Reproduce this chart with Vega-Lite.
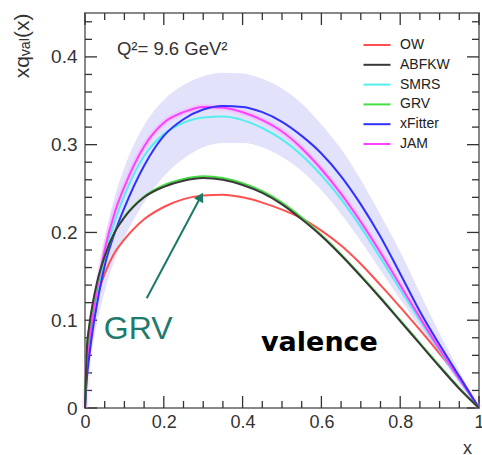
{
  "$schema": "https://vega.github.io/schema/vega-lite/v6.json",
  "width": 394,
  "height": 395,
  "autosize": "none",
  "padding": {"left": 85, "top": 13, "right": 3, "bottom": 47},
  "background": "white",
  "config": {
    "view": {"stroke": "#888", "strokeWidth": 2},
    "axisX": {"ticks": false, "domain": false, "grid": false, "tickCount": 5,
      "labelFont": "Liberation Sans", "labelFontSize": 18, "labelColor": "#333", "labelPadding": 5, "labelFlush": false, "labelOverlap": false,
      "labelExpr": "datum.value == 0 ? '0' : datum.value == 1 ? '1' : format(datum.value, '.1f')",
      "titleFont": "Liberation Sans", "titleFontSize": 18, "titleFontWeight": "normal", "titleColor": "#333",
      "titleX": 382, "titleY": 40, "titleAlign": "center", "titleBaseline": "middle"},
    "axisY": {"ticks": false, "domain": false, "grid": false, "tickCount": 5,
      "labelFont": "Liberation Sans", "labelFontSize": 19, "labelColor": "#333", "labelPadding": 8, "labelFlush": false, "labelOverlap": false,
      "labelExpr": "datum.value == 0 ? '0' : format(datum.value, '.1f')",
      "titleFont": "Liberation Sans, DejaVu Sans", "titleFontSize": 21, "titleFontWeight": "normal", "titleColor": "#333",
      "titleAngle": -90, "titleX": -63, "titleY": 0, "titleAlign": "right", "titleBaseline": "middle"}
  },
  "datasets": {
    "band": [
      {"x": 0, "lo": 0, "hi": 0},
      {"x": 0.005, "lo": 0.028, "hi": 0.05},
      {"x": 0.01, "lo": 0.045, "hi": 0.072},
      {"x": 0.02, "lo": 0.072, "hi": 0.112},
      {"x": 0.03, "lo": 0.095, "hi": 0.143},
      {"x": 0.05, "lo": 0.133, "hi": 0.193},
      {"x": 0.075, "lo": 0.168, "hi": 0.24},
      {"x": 0.1, "lo": 0.194, "hi": 0.274},
      {"x": 0.15, "lo": 0.234, "hi": 0.322},
      {"x": 0.2, "lo": 0.264, "hi": 0.351},
      {"x": 0.25, "lo": 0.284, "hi": 0.368},
      {"x": 0.3, "lo": 0.297, "hi": 0.378},
      {"x": 0.35, "lo": 0.302, "hi": 0.382},
      {"x": 0.4, "lo": 0.302, "hi": 0.381},
      {"x": 0.45, "lo": 0.297, "hi": 0.375},
      {"x": 0.5, "lo": 0.286, "hi": 0.364},
      {"x": 0.55, "lo": 0.27, "hi": 0.347},
      {"x": 0.6, "lo": 0.248, "hi": 0.323},
      {"x": 0.65, "lo": 0.221, "hi": 0.295},
      {"x": 0.7, "lo": 0.19, "hi": 0.26},
      {"x": 0.75, "lo": 0.157, "hi": 0.22},
      {"x": 0.8, "lo": 0.124, "hi": 0.178},
      {"x": 0.85, "lo": 0.092, "hi": 0.131},
      {"x": 0.9, "lo": 0.06, "hi": 0.085},
      {"x": 0.95, "lo": 0.029, "hi": 0.042},
      {"x": 1, "lo": 0, "hi": 0}
    ],
    "curves": [
      {"s": "OW", "x": 0, "y": 0}, {"s": "OW", "x": 0.005, "y": 0.053}, {"s": "OW", "x": 0.01, "y": 0.075}, {"s": "OW", "x": 0.02, "y": 0.105}, {"s": "OW", "x": 0.03, "y": 0.125}, {"s": "OW", "x": 0.05, "y": 0.153}, {"s": "OW", "x": 0.075, "y": 0.177}, {"s": "OW", "x": 0.1, "y": 0.192}, {"s": "OW", "x": 0.15, "y": 0.215}, {"s": "OW", "x": 0.2, "y": 0.229}, {"s": "OW", "x": 0.25, "y": 0.238}, {"s": "OW", "x": 0.3, "y": 0.242}, {"s": "OW", "x": 0.35, "y": 0.243}, {"s": "OW", "x": 0.4, "y": 0.24}, {"s": "OW", "x": 0.45, "y": 0.234}, {"s": "OW", "x": 0.5, "y": 0.226}, {"s": "OW", "x": 0.55, "y": 0.216}, {"s": "OW", "x": 0.6, "y": 0.202}, {"s": "OW", "x": 0.65, "y": 0.185}, {"s": "OW", "x": 0.7, "y": 0.164}, {"s": "OW", "x": 0.75, "y": 0.14}, {"s": "OW", "x": 0.8, "y": 0.115}, {"s": "OW", "x": 0.85, "y": 0.089}, {"s": "OW", "x": 0.9, "y": 0.062}, {"s": "OW", "x": 0.95, "y": 0.034}, {"s": "OW", "x": 1, "y": 0},
      {"s": "SMRS", "x": 0, "y": 0}, {"s": "SMRS", "x": 0.005, "y": 0.042}, {"s": "SMRS", "x": 0.01, "y": 0.066}, {"s": "SMRS", "x": 0.02, "y": 0.1}, {"s": "SMRS", "x": 0.03, "y": 0.127}, {"s": "SMRS", "x": 0.05, "y": 0.172}, {"s": "SMRS", "x": 0.075, "y": 0.212}, {"s": "SMRS", "x": 0.1, "y": 0.242}, {"s": "SMRS", "x": 0.15, "y": 0.287}, {"s": "SMRS", "x": 0.2, "y": 0.312}, {"s": "SMRS", "x": 0.25, "y": 0.325}, {"s": "SMRS", "x": 0.3, "y": 0.331}, {"s": "SMRS", "x": 0.35, "y": 0.332}, {"s": "SMRS", "x": 0.4, "y": 0.328}, {"s": "SMRS", "x": 0.45, "y": 0.319}, {"s": "SMRS", "x": 0.5, "y": 0.306}, {"s": "SMRS", "x": 0.55, "y": 0.288}, {"s": "SMRS", "x": 0.6, "y": 0.265}, {"s": "SMRS", "x": 0.65, "y": 0.238}, {"s": "SMRS", "x": 0.7, "y": 0.206}, {"s": "SMRS", "x": 0.75, "y": 0.171}, {"s": "SMRS", "x": 0.8, "y": 0.135}, {"s": "SMRS", "x": 0.85, "y": 0.1}, {"s": "SMRS", "x": 0.9, "y": 0.065}, {"s": "SMRS", "x": 0.95, "y": 0.032}, {"s": "SMRS", "x": 1, "y": 0},
      {"s": "JAM", "x": 0, "y": 0}, {"s": "JAM", "x": 0.005, "y": 0.045}, {"s": "JAM", "x": 0.01, "y": 0.07}, {"s": "JAM", "x": 0.02, "y": 0.105}, {"s": "JAM", "x": 0.03, "y": 0.133}, {"s": "JAM", "x": 0.05, "y": 0.18}, {"s": "JAM", "x": 0.075, "y": 0.222}, {"s": "JAM", "x": 0.1, "y": 0.252}, {"s": "JAM", "x": 0.15, "y": 0.298}, {"s": "JAM", "x": 0.2, "y": 0.325}, {"s": "JAM", "x": 0.25, "y": 0.337}, {"s": "JAM", "x": 0.3, "y": 0.343}, {"s": "JAM", "x": 0.35, "y": 0.342}, {"s": "JAM", "x": 0.4, "y": 0.337}, {"s": "JAM", "x": 0.45, "y": 0.328}, {"s": "JAM", "x": 0.5, "y": 0.315}, {"s": "JAM", "x": 0.55, "y": 0.296}, {"s": "JAM", "x": 0.6, "y": 0.272}, {"s": "JAM", "x": 0.65, "y": 0.244}, {"s": "JAM", "x": 0.7, "y": 0.212}, {"s": "JAM", "x": 0.75, "y": 0.177}, {"s": "JAM", "x": 0.8, "y": 0.14}, {"s": "JAM", "x": 0.85, "y": 0.103}, {"s": "JAM", "x": 0.9, "y": 0.067}, {"s": "JAM", "x": 0.95, "y": 0.033}, {"s": "JAM", "x": 1, "y": 0},
      {"s": "xFitter", "x": 0, "y": 0}, {"s": "xFitter", "x": 0.005, "y": 0.035}, {"s": "xFitter", "x": 0.01, "y": 0.056}, {"s": "xFitter", "x": 0.02, "y": 0.09}, {"s": "xFitter", "x": 0.03, "y": 0.117}, {"s": "xFitter", "x": 0.05, "y": 0.162}, {"s": "xFitter", "x": 0.075, "y": 0.199}, {"s": "xFitter", "x": 0.1, "y": 0.228}, {"s": "xFitter", "x": 0.15, "y": 0.276}, {"s": "xFitter", "x": 0.2, "y": 0.31}, {"s": "xFitter", "x": 0.25, "y": 0.329}, {"s": "xFitter", "x": 0.3, "y": 0.34}, {"s": "xFitter", "x": 0.35, "y": 0.344}, {"s": "xFitter", "x": 0.4, "y": 0.343}, {"s": "xFitter", "x": 0.45, "y": 0.337}, {"s": "xFitter", "x": 0.5, "y": 0.326}, {"s": "xFitter", "x": 0.55, "y": 0.31}, {"s": "xFitter", "x": 0.6, "y": 0.29}, {"s": "xFitter", "x": 0.65, "y": 0.264}, {"s": "xFitter", "x": 0.7, "y": 0.232}, {"s": "xFitter", "x": 0.75, "y": 0.195}, {"s": "xFitter", "x": 0.8, "y": 0.153}, {"s": "xFitter", "x": 0.85, "y": 0.11}, {"s": "xFitter", "x": 0.9, "y": 0.072}, {"s": "xFitter", "x": 0.95, "y": 0.036}, {"s": "xFitter", "x": 1, "y": 0},
      {"s": "GRV", "x": 0, "y": 0}, {"s": "GRV", "x": 0.005, "y": 0.067}, {"s": "GRV", "x": 0.01, "y": 0.089}, {"s": "GRV", "x": 0.02, "y": 0.118}, {"s": "GRV", "x": 0.03, "y": 0.14}, {"s": "GRV", "x": 0.05, "y": 0.172}, {"s": "GRV", "x": 0.075, "y": 0.2}, {"s": "GRV", "x": 0.1, "y": 0.218}, {"s": "GRV", "x": 0.15, "y": 0.241}, {"s": "GRV", "x": 0.2, "y": 0.254}, {"s": "GRV", "x": 0.25, "y": 0.261}, {"s": "GRV", "x": 0.3, "y": 0.264}, {"s": "GRV", "x": 0.35, "y": 0.262}, {"s": "GRV", "x": 0.4, "y": 0.256}, {"s": "GRV", "x": 0.45, "y": 0.247}, {"s": "GRV", "x": 0.5, "y": 0.234}, {"s": "GRV", "x": 0.55, "y": 0.217}, {"s": "GRV", "x": 0.6, "y": 0.197}, {"s": "GRV", "x": 0.65, "y": 0.175}, {"s": "GRV", "x": 0.7, "y": 0.151}, {"s": "GRV", "x": 0.75, "y": 0.126}, {"s": "GRV", "x": 0.8, "y": 0.1}, {"s": "GRV", "x": 0.85, "y": 0.074}, {"s": "GRV", "x": 0.9, "y": 0.048}, {"s": "GRV", "x": 0.95, "y": 0.023}, {"s": "GRV", "x": 1, "y": 0},
      {"s": "ABFKW", "x": 0, "y": 0}, {"s": "ABFKW", "x": 0.005, "y": 0.069}, {"s": "ABFKW", "x": 0.01, "y": 0.091}, {"s": "ABFKW", "x": 0.02, "y": 0.12}, {"s": "ABFKW", "x": 0.03, "y": 0.142}, {"s": "ABFKW", "x": 0.05, "y": 0.173}, {"s": "ABFKW", "x": 0.075, "y": 0.2}, {"s": "ABFKW", "x": 0.1, "y": 0.217}, {"s": "ABFKW", "x": 0.15, "y": 0.24}, {"s": "ABFKW", "x": 0.2, "y": 0.252}, {"s": "ABFKW", "x": 0.25, "y": 0.259}, {"s": "ABFKW", "x": 0.3, "y": 0.262}, {"s": "ABFKW", "x": 0.35, "y": 0.26}, {"s": "ABFKW", "x": 0.4, "y": 0.254}, {"s": "ABFKW", "x": 0.45, "y": 0.245}, {"s": "ABFKW", "x": 0.5, "y": 0.232}, {"s": "ABFKW", "x": 0.55, "y": 0.215}, {"s": "ABFKW", "x": 0.6, "y": 0.196}, {"s": "ABFKW", "x": 0.65, "y": 0.174}, {"s": "ABFKW", "x": 0.7, "y": 0.15}, {"s": "ABFKW", "x": 0.75, "y": 0.125}, {"s": "ABFKW", "x": 0.8, "y": 0.099}, {"s": "ABFKW", "x": 0.85, "y": 0.073}, {"s": "ABFKW", "x": 0.9, "y": 0.047}, {"s": "ABFKW", "x": 0.95, "y": 0.022}, {"s": "ABFKW", "x": 1, "y": 0}
    ]
  },
  "layer": [
    {
      "data": {"name": "band"},
      "mark": {"type": "area", "color": "#e2e2fb", "opacity": 1, "interpolate": "monotone"},
      "encoding": {
        "x": {"field": "x", "type": "quantitative", "title": "x", "scale": {"domain": [0, 1], "nice": false}},
        "y": {"field": "lo", "type": "quantitative", "title": "xqᵥₐₗ(x)", "scale": {"domain": [0, 0.45], "nice": false}},
        "y2": {"field": "hi"}
      }
    },
    {
      "data": {"values": [{"gx": 0}, {"gx": 0.2}, {"gx": 0.4}, {"gx": 0.6}, {"gx": 0.8}, {"gx": 1}]},
      "mark": {"type": "rule", "color": "#333", "strokeWidth": 1.3},
      "encoding": {
        "x": {"field": "gx", "type": "quantitative", "title": "x"},
        "y": {"datum": 0, "type": "quantitative", "title": "xqᵥₐₗ(x)"},
        "y2": {"datum": 0.0137}
      }
    },
    {
      "data": {"values": [{"gx": 0.05}, {"gx": 0.1}, {"gx": 0.15}, {"gx": 0.25}, {"gx": 0.3}, {"gx": 0.35}, {"gx": 0.45}, {"gx": 0.5}, {"gx": 0.55}, {"gx": 0.65}, {"gx": 0.7}, {"gx": 0.75}, {"gx": 0.85}, {"gx": 0.9}, {"gx": 0.95}]},
      "mark": {"type": "rule", "color": "#333", "strokeWidth": 1.3},
      "encoding": {
        "x": {"field": "gx", "type": "quantitative", "title": "x"},
        "y": {"datum": 0, "type": "quantitative", "title": "xqᵥₐₗ(x)"},
        "y2": {"datum": 0.008}
      }
    },
    {
      "data": {"values": [{"gx": 0}, {"gx": 0.2}, {"gx": 0.4}, {"gx": 0.6}, {"gx": 0.8}, {"gx": 1}]},
      "mark": {"type": "rule", "color": "#333", "strokeWidth": 1.3},
      "encoding": {
        "x": {"field": "gx", "type": "quantitative", "title": "x"},
        "y": {"datum": 0.45, "type": "quantitative", "title": "xqᵥₐₗ(x)"},
        "y2": {"datum": 0.4363}
      }
    },
    {
      "data": {"values": [{"gx": 0.05}, {"gx": 0.1}, {"gx": 0.15}, {"gx": 0.25}, {"gx": 0.3}, {"gx": 0.35}, {"gx": 0.45}, {"gx": 0.5}, {"gx": 0.55}, {"gx": 0.65}, {"gx": 0.7}, {"gx": 0.75}, {"gx": 0.85}, {"gx": 0.9}, {"gx": 0.95}]},
      "mark": {"type": "rule", "color": "#333", "strokeWidth": 1.3},
      "encoding": {
        "x": {"field": "gx", "type": "quantitative", "title": "x"},
        "y": {"datum": 0.45, "type": "quantitative", "title": "xqᵥₐₗ(x)"},
        "y2": {"datum": 0.442}
      }
    },
    {
      "data": {"values": [{"gy": 0}, {"gy": 0.1}, {"gy": 0.2}, {"gy": 0.3}, {"gy": 0.4}]},
      "mark": {"type": "rule", "color": "#333", "strokeWidth": 1.3},
      "encoding": {
        "y": {"field": "gy", "type": "quantitative", "title": "xqᵥₐₗ(x)"},
        "x": {"datum": 0, "type": "quantitative", "title": "x"},
        "x2": {"datum": 0.0305}
      }
    },
    {
      "data": {"values": [{"gy": 0.02}, {"gy": 0.04}, {"gy": 0.06}, {"gy": 0.08}, {"gy": 0.12}, {"gy": 0.14}, {"gy": 0.16}, {"gy": 0.18}, {"gy": 0.22}, {"gy": 0.24}, {"gy": 0.26}, {"gy": 0.28}, {"gy": 0.32}, {"gy": 0.34}, {"gy": 0.36}, {"gy": 0.38}, {"gy": 0.42}, {"gy": 0.44}]},
      "mark": {"type": "rule", "color": "#333", "strokeWidth": 1.3},
      "encoding": {
        "y": {"field": "gy", "type": "quantitative", "title": "xqᵥₐₗ(x)"},
        "x": {"datum": 0, "type": "quantitative", "title": "x"},
        "x2": {"datum": 0.0178}
      }
    },
    {
      "data": {"values": [{"gy": 0}, {"gy": 0.1}, {"gy": 0.2}, {"gy": 0.3}, {"gy": 0.4}]},
      "mark": {"type": "rule", "color": "#333", "strokeWidth": 1.3},
      "encoding": {
        "y": {"field": "gy", "type": "quantitative", "title": "xqᵥₐₗ(x)"},
        "x": {"datum": 1, "type": "quantitative", "title": "x"},
        "x2": {"datum": 0.9695}
      }
    },
    {
      "data": {"values": [{"gy": 0.02}, {"gy": 0.04}, {"gy": 0.06}, {"gy": 0.08}, {"gy": 0.12}, {"gy": 0.14}, {"gy": 0.16}, {"gy": 0.18}, {"gy": 0.22}, {"gy": 0.24}, {"gy": 0.26}, {"gy": 0.28}, {"gy": 0.32}, {"gy": 0.34}, {"gy": 0.36}, {"gy": 0.38}, {"gy": 0.42}, {"gy": 0.44}]},
      "mark": {"type": "rule", "color": "#333", "strokeWidth": 1.3},
      "encoding": {
        "y": {"field": "gy", "type": "quantitative", "title": "xqᵥₐₗ(x)"},
        "x": {"datum": 1, "type": "quantitative", "title": "x"},
        "x2": {"datum": 0.9822}
      }
    },
    {
      "data": {"name": "curves"},
      "transform": [{"filter": "datum.s == 'JAM'"}],
      "mark": {"type": "line", "color": "#ff99ff", "strokeWidth": 6, "opacity": 0.3, "interpolate": "monotone"},
      "encoding": {
        "x": {"field": "x", "type": "quantitative", "title": "x"},
        "y": {"field": "y", "type": "quantitative", "title": "xqᵥₐₗ(x)"}
      }
    },
    {
      "data": {"name": "curves"},
      "mark": {"type": "line", "strokeWidth": 2, "interpolate": "monotone"},
      "encoding": {
        "x": {"field": "x", "type": "quantitative", "title": "x"},
        "y": {"field": "y", "type": "quantitative", "title": "xqᵥₐₗ(x)"},
        "color": {"field": "s", "type": "nominal",
          "scale": {"domain": ["OW", "ABFKW", "SMRS", "GRV", "xFitter", "JAM"], "range": ["#ff5050", "#3a3a3a", "#55eeee", "#44dd44", "#3030ff", "#ff40ff"]},
          "legend": {"orient": "none", "legendX": 285, "legendY": 25, "title": null, "padding": 0,
            "symbolType": "M-2.7,0H2.7", "symbolSize": 100, "symbolStrokeWidth": 2, "labelOffset": 16,
            "labelFont": "Liberation Sans", "labelFontSize": 14, "labelColor": "#222", "rowPadding": 5.8}}
      }
    },
    {
      "data": {"values": [{}]},
      "mark": {"type": "rule", "color": "#1a7a66", "strokeWidth": 2},
      "encoding": {
        "x": {"datum": 0.1566, "type": "quantitative", "title": "x"},
        "y": {"datum": 0.125, "type": "quantitative", "title": "xqᵥₐₗ(x)"},
        "x2": {"datum": 0.2937},
        "y2": {"datum": 0.2406}
      }
    },
    {
      "data": {"values": [{}]},
      "mark": {"type": "point", "shape": "triangle-up", "filled": true, "color": "#1a7a66", "opacity": 1, "size": 110, "angle": 28},
      "encoding": {
        "x": {"datum": 0.2937, "type": "quantitative", "title": "x"},
        "y": {"datum": 0.2406, "type": "quantitative", "title": "xqᵥₐₗ(x)"}
      }
    },
    {
      "data": {"values": [{}]},
      "mark": {"type": "text", "text": "Q²= 9.6 GeV²", "align": "left", "baseline": "alphabetic", "font": "Liberation Sans", "fontSize": 18.5, "color": "#333"},
      "encoding": {
        "x": {"datum": 0.081, "type": "quantitative", "title": "x"},
        "y": {"datum": 0.402, "type": "quantitative", "title": "xqᵥₐₗ(x)"}
      }
    },
    {
      "data": {"values": [{}]},
      "mark": {"type": "text", "text": "GRV", "align": "center", "baseline": "alphabetic", "font": "Liberation Sans", "fontSize": 32, "color": "#1f7a6b"},
      "encoding": {
        "x": {"datum": 0.135, "type": "quantitative", "title": "x"},
        "y": {"datum": 0.0783, "type": "quantitative", "title": "xqᵥₐₗ(x)"}
      }
    },
    {
      "data": {"values": [{}]},
      "mark": {"type": "text", "text": "valence", "align": "left", "baseline": "alphabetic", "font": "DejaVu Sans", "fontWeight": "bold", "fontSize": 27, "color": "#000"},
      "encoding": {
        "x": {"datum": 0.4467, "type": "quantitative", "title": "x"},
        "y": {"datum": 0.0653, "type": "quantitative", "title": "xqᵥₐₗ(x)"}
      }
    }
  ]
}
